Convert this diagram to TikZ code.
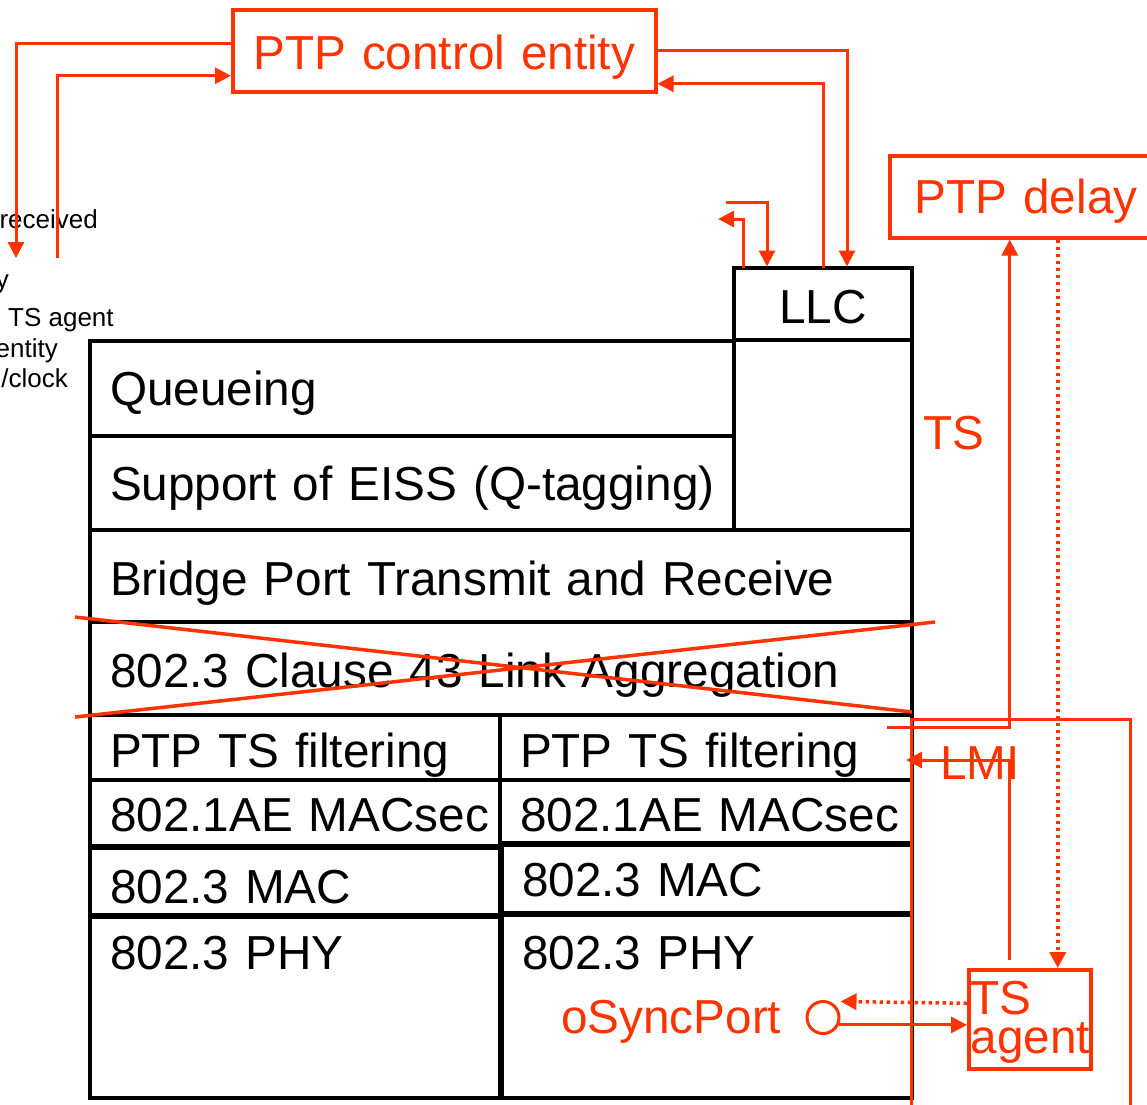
\documentclass[tikz,border=0pt]{standalone}
\usepackage{fontspec}
\setmainfont{Liberation Sans}
\usetikzlibrary{arrows.meta}
\definecolor{ptpred}{RGB}{255,51,0}
\tikzset{
  big/.style={font=\fontsize{47.7pt}{39pt}\selectfont},
  small/.style={font=\fontsize{26pt}{30pt}\selectfont, inner sep=0pt},
  cellbase/.style={big, draw, line width=3.5pt, anchor=north west, outer sep=0pt,
    inner xsep=0pt, inner ysep=0pt},
  cell/.style={cellbase, align=left, execute at begin node={\hspace*{20pt}}},
  redbox/.style={big, draw=ptpred, text=ptpred, line width=3.5pt,
    anchor=north west, inner ysep=0pt},
  redlabel/.style={big, text=ptpred, anchor=base west, inner sep=0pt},
  link/.style={draw=ptpred, line width=3pt, -{Triangle[length=16pt,width=16pt]}},
  dotlink/.style={link, line width=3.5pt, dash pattern=on 3.5pt off 3.5pt},
}
\begin{document}
\begin{tikzpicture}[x=1pt,y=-1pt]
\useasboundingbox (0,0) rectangle (1147,1104);

% bridge port stack
\node (queue) [cell, text width=644pt, text height=64pt, text depth=31pt] at (90,341) {Queueing};
\node (eiss) [cell, text width=644pt, text height=64pt, text depth=30pt] at (90,436) {Support of EISS (Q-tagging)};
\node (bridge) [cell, text width=822pt, text height=65pt, text depth=27pt] at (90,530) {Bridge Port Transmit and Receive};
\node (linkagg) [cell, text width=822pt, text height=65pt, text depth=28pt] at (90,622) {802.3 Clause 43 Link Aggregation};
\node (llc) [cellbase, align=center, text width=178pt, text height=55pt, text depth=17pt] at (734,268) {LLC};
\draw[line width=3.5pt] (llc.south east) -- (bridge.north east);

% two ports
\node (filtL) [cell, text width=410pt, text height=52pt, text depth=13pt] at (90,715) {PTP TS filtering};
\node (filtR) [cell, text width=412pt, text height=52pt, text depth=13pt] at (500,715) {PTP TS filtering};
\node (secL) [cell, text width=410pt, text height=51pt, text depth=15pt] at (90,780) {802.1AE MACsec};
\node (secR) [cell, text width=412pt, text height=51pt, text depth=12pt] at (500,780) {802.1AE MACsec};
\node (macL) [cell, text width=410pt, text height=55pt, text depth=12pt] at (90,848) {802.3 MAC};
\node (macR) [cell, text width=410pt, text height=51pt, text depth=17pt] at (502,845) {802.3 MAC};
\node (phyL) [cell, text width=410pt, text height=52pt, text depth=129pt] at (90,917) {802.3 PHY};
\node (phyR) [cell, text width=410pt, text height=54pt, text depth=129pt] at (502,915) {802.3 PHY};

% link aggregation crossed out
\draw[ptpred, line width=3.5pt] (75,617) -- (912,712) (75,717) -- (935,622);

% port frame
\draw[ptpred, line width=3pt] (911,1110) -- (911,719) -- (1130,719) -- (1130,1110);

% PTP entities
\node (ctrl) [redbox, align=center, inner xsep=0pt, text width=423pt, text height=60pt, text depth=22pt] at (231,8) {PTP control entity};
\node (delay) [redbox, align=left, inner xsep=25pt, text width=232pt, text height=58pt, text depth=24pt] at (888,154) {PTP delay};
\node (tsag) [redbox, align=left, inner xsep=2pt, text width=118pt, text height=45pt, text depth=54pt] at (967,968) {TS\\agent};
\node (osync) [circle, draw=ptpred, line width=3pt, minimum size=32pt, inner sep=0pt] at (823,1017.5) {};

\node (tslabel) [redlabel] at (923,449) {TS};
\node (lmi) [redlabel] at (940,779) {LMI};
\node (osynclabel) [redlabel] at (561,1033) {oSyncPort};

% left margin text
\node (rcv) [small, anchor=base east] at (98,228) {received};
\node (yfrag) [small, anchor=base east] at (9,288) {y};
\node (tsagent) [small, anchor=base west] at (8,326) {TS agent};
\node (entity) [small, anchor=base east] at (58,357) {entity};
\node (clock) [small, anchor=base east] at (68,387) {/clock};

\coordinate (rxend) at (16,258);
\coordinate (txend) at (57,258);
\coordinate (llcin) at (726,202);
\coordinate (llcout) at (718,219);
\coordinate (tsout) at (887,727);
\coordinate (lmitip) at (906,760);

% connectors
\draw[link] ([yshift=7pt]ctrl.west) -| (rxend);
\draw[link] (txend) |- ([yshift=-25pt]ctrl.west);
\draw[link, shorten >=1.5pt] (ctrl.east) -| ([xshift=24pt]llc.north);
\draw[link] (llc.north) |- ([yshift=-33pt]ctrl.east);
\draw[link, shorten >=1.5pt] (llcin) -| ([xshift=-56pt]llc.north);
\draw[link] ([xshift=-80pt]llc.north) |- (llcout);
\draw[link] (tsout) -| ([xshift=-21pt]delay.south);
\draw[dotlink] ([xshift=27pt]delay.south) -- ([xshift=27pt]delay.south |- tsag.north);
\draw[link, shorten <=8pt] ([xshift=-20pt]tsag.north) |- (lmitip);
\draw[dotlink] ([yshift=16pt]tsag.west) -- ([yshift=16pt]osync.east);
\draw[link] (osync.-25) -- (tsag.west |- osync.-25);
\end{tikzpicture}
\end{document}
